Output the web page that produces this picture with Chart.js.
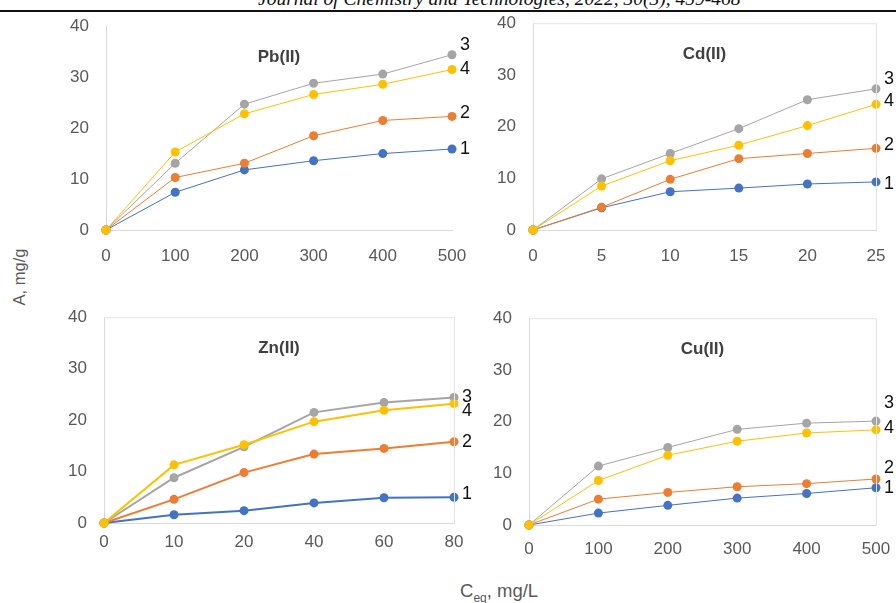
<!DOCTYPE html>
<html>
<head>
<meta charset="utf-8">
<script src="https://cdn.jsdelivr.net/npm/chart.js@4.4.0/dist/chart.umd.min.js"></script>
<style>
  body { margin: 0; background: #fff; width: 896px; height: 603px; overflow: hidden; position: relative;
         font-family: "Liberation Sans", Arial, sans-serif; }
  canvas { position: absolute; }
  #hdr { position: absolute; left: 258px; top: -11px; font: italic 19.5px/19.5px "Liberation Serif", serif; color: #111; white-space: nowrap; }
  #rule { position: absolute; left: 0; top: 10px; width: 896px; height: 2px; background: #111; z-index: 2; }
  #ylab { position: absolute; left: 19px; top: 277px; font-size: 16.5px; color: #595959; white-space: nowrap;
          transform: translate(-50%, -50%) rotate(-90deg); }
  #xlab { position: absolute; left: 460px; top: 580px; font-size: 18.5px; color: #595959; white-space: nowrap; }
  #xlab sub { font-size: 12px; }
</style>
</head>
<body>
<div id="hdr">Journal of Chemistry and Technologies, 2022, 30(3), 459-468</div>
<div id="rule"></div>
<div id="ylab">A, mg/g</div>
<div id="xlab">C<sub>eq</sub>, mg/L</div>

<canvas id="pb" width="446" height="271" style="left:46px;top:-1px"></canvas>
<canvas id="cd" width="443" height="274" style="left:473px;top:-4px"></canvas>
<canvas id="zn" width="450" height="273" style="left:44px;top:290px"></canvas>
<canvas id="cu" width="447" height="274" style="left:469px;top:291px"></canvas>

<script>
// x categories (evenly spaced in the original)
const pbLabels = ['0', '100', '200', '300', '400', '500'];
const cdLabels = ['0', '5', '10', '15', '20', '25'];
const znLabels = ['0', '10', '20', '40', '60', '80'];
const cuLabels = ['0', '100', '200', '300', '400', '500'];

// series 1..4 for each metal, A in mg/g
const pb1 = [0, 7.4, 11.8, 13.6, 15.0, 15.9];
const pb2 = [0, 10.3, 13.1, 18.5, 21.5, 22.3];
const pb3 = [0, 13.1, 24.7, 28.8, 30.6, 34.4];
const pb4 = [0, 15.3, 22.8, 26.6, 28.6, 31.5];

const cd1 = [0, 4.3, 7.4, 8.1, 8.9, 9.3];
const cd2 = [0, 4.4, 9.8, 13.8, 14.8, 15.8];
const cd3 = [0, 9.9, 14.8, 19.6, 25.2, 27.3];
const cd4 = [0, 8.5, 13.4, 16.4, 20.2, 24.3];

const zn1 = [0, 1.6, 2.4, 3.9, 4.9, 5.0];
const zn2 = [0, 4.6, 9.8, 13.4, 14.5, 15.8];
const zn3 = [0, 8.8, 14.8, 21.5, 23.4, 24.4];
const zn4 = [0, 11.3, 15.2, 19.7, 21.9, 23.2];

const cu1 = [0, 2.3, 3.8, 5.2, 6.1, 7.2];
const cu2 = [0, 5.0, 6.3, 7.4, 8.0, 8.9];
const cu3 = [0, 11.4, 15.0, 18.5, 19.7, 20.1];
const cu4 = [0, 8.6, 13.5, 16.2, 17.8, 18.4];

const seriesNames = ['1', '2', '3', '4'];
const colors = ['#4472C4', '#ED7D31', '#A5A5A5', '#FFC000'];

// draws the panel title, the light frame and the 1-4 labels at the line ends
const panelDeco = {
    id: 'panelDeco',
    afterDatasetsDraw(chart, args, opts) {
        const ctx = chart.ctx;
        const a = chart.chartArea;
        ctx.save();
        if (opts.frame) {
            ctx.strokeStyle = '#e4e4e4';
            ctx.lineWidth = 1;
            ctx.beginPath();
            ctx.moveTo(a.left, a.top + 0.5);
            ctx.lineTo(a.right + 0.5, a.top + 0.5);
            ctx.lineTo(a.right + 0.5, a.bottom);
            ctx.stroke();
        }
        ctx.fillStyle = '#404040';
        ctx.font = 'bold 17px "Liberation Sans", Arial, sans-serif';
        ctx.textAlign = 'center';
        ctx.textBaseline = 'middle';
        ctx.fillText(opts.title, (a.left + a.right) / 2, a.top + 31);

        ctx.fillStyle = '#111';
        ctx.font = '18px "Liberation Sans", Arial, sans-serif';
        ctx.textAlign = 'left';
        chart.data.datasets.forEach((ds, i) => {
            const pts = chart.getDatasetMeta(i).data;
            const p = pts[pts.length - 1];
            ctx.fillText(ds.label, p.x + 8, p.y + opts.dy[i]);
        });
        ctx.restore();
    }
};

function makePanel(id, labels, series, title, dy, lw, xPad, frame) {
    const datasets = series.map((vals, i) => ({
        label: seriesNames[i],
        data: vals,
        borderColor: colors[i],
        backgroundColor: colors[i],
        borderWidth: lw,
        pointRadius: 4.5,
        pointBorderWidth: 0,
        pointBackgroundColor: colors[i],
        tension: 0,
        clip: false,
        order: 3 - i
    }));
    return new Chart(document.getElementById(id), {
        type: 'line',
        data: { labels: labels, datasets: datasets },
        plugins: [panelDeco],
        options: {
            responsive: false,
            animation: false,
            devicePixelRatio: 1,
            layout: { padding: { top: 2, right: 40, left: 0, bottom: 0 } },
            plugins: {
                legend: { display: false },
                tooltip: { enabled: false },
                panelDeco: { title: title, dy: dy, frame: frame }
            },
            scales: {
                x: {
                    offset: false,
                    grid: { display: false, drawTicks: false },
                    border: { display: true, color: '#d9d9d9' },
                    ticks: { color: '#595959', font: { size: 17, family: '"Liberation Sans", Arial' },
                             padding: xPad, maxRotation: 0, autoSkip: false },
                    afterFit: s => { s.height = 40; }
                },
                y: {
                    min: 0, max: 40,
                    grid: { display: false, drawTicks: false },
                    border: { display: true, color: '#d9d9d9' },
                    ticks: { stepSize: 10, color: '#595959', font: { size: 17, family: '"Liberation Sans", Arial' },
                             padding: 17 },
                    afterFit: s => { s.width = 60; }
                }
            }
        }
    });
}

makePanel('pb', pbLabels, [pb1, pb2, pb3, pb4], 'Pb(II)', [0, -3, -10, 0], 1, 16, false);
makePanel('cd', cdLabels, [cd1, cd2, cd3, cd4], 'Cd(II)', [2, -3, -10, -3], 1, 16, true);
makePanel('zn', znLabels, [zn1, zn2, zn3, zn4], 'Zn(II)', [-3, 0, 0, 7], 2, 9, true);
makePanel('cu', cuLabels, [cu1, cu2, cu3, cu4], 'Cu(II)', [0, -11, -18, -2], 1, 14, true);
</script>
</body>
</html>
